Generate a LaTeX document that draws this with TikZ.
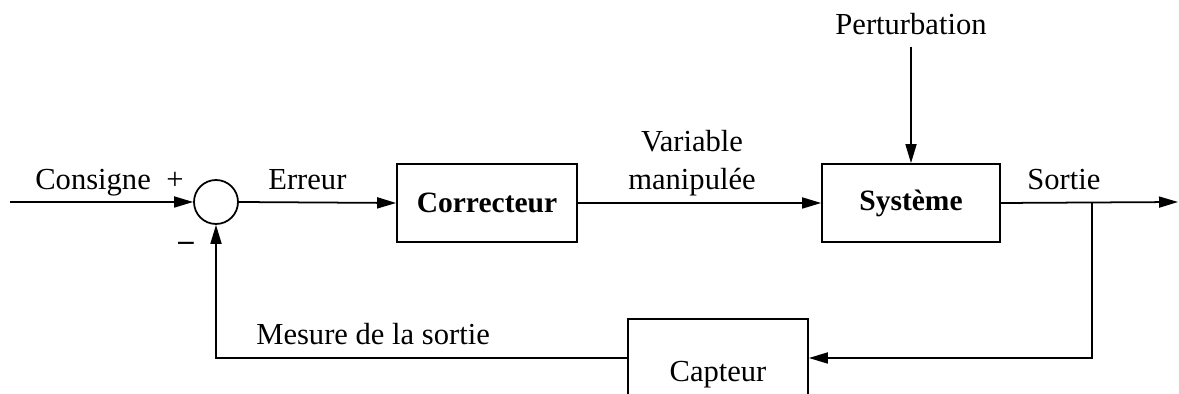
\documentclass[tikz,border=0pt]{standalone}
\usepackage{fontspec}
\setmainfont{Liberation Serif}
\usetikzlibrary{arrows.meta}
\begin{document}
\begin{tikzpicture}[x=0.02cm,y=-0.02cm,
  every node/.style={font=\fontsize{17.4}{21}\selectfont},
  blockbox/.style={draw,line width=1pt,inner sep=0pt},
  boldtxt/.style={font=\fontsize{16.8}{20}\selectfont\bfseries},
  lbl/.style={inner sep=0pt,anchor=base},
  conn/.style={line width=1pt,-{Triangle[length=0.38cm,width=0.22cm]}},
  plain/.style={line width=1pt}]
\useasboundingbox (0,0) rectangle (1179,394);
\node[blockbox,circle,minimum size=0.88cm] (sum) at (216,202) {};
\node[blockbox,boldtxt,minimum width=3.6cm,minimum height=1.56cm] (corr) at (487,203) {Correcteur};
\node[blockbox,boldtxt,minimum width=3.56cm,minimum height=1.56cm] (sys) at (911,203) {Système};
\node[blockbox,minimum width=3.6cm,minimum height=2.22cm] (capt) at (718,374.5) {Capteur};
\coordinate (in) at (10,202);
\coordinate (out) at (1178,202);
\coordinate (br) at (1092,202);
\coordinate (fb) at (1092,358);
\coordinate (fbl) at (216,358);
\coordinate (pt) at (911,47);
\node[lbl,anchor=base west] (cons) at (35,190) {Consigne};
\node[lbl] (plus) at (175,190) {+};
\node[lbl] (minus) at (186,251) {\textbf{–}};
\node[lbl,anchor=base west] (err) at (268,190) {Erreur};
\node[lbl] (var1) at (692,152) {Variable};
\node[lbl] (var2) at (692,190) {manipulée};
\node[lbl] (pert) at (911,35) {Perturbation};
\node[lbl,anchor=base west] (sort) at (1027,190) {Sortie};
\node[lbl,anchor=base west] (mes) at (256,345) {Mesure de la sortie};
\draw[conn] (in) -- (sum.west);
\draw[conn] (sum.east) -- (corr.west);
\draw[conn] (corr.east) -- (sys.west);
\draw[conn] (sys.east) -- (out);
\draw[conn] (pt) -- (sys.north);
\draw[conn] (br) -- (fb) -- (capt.east |- fb);
\draw[conn] (capt.west |- fb) -- (fbl) -- (sum.south);
\end{tikzpicture}
\end{document}
